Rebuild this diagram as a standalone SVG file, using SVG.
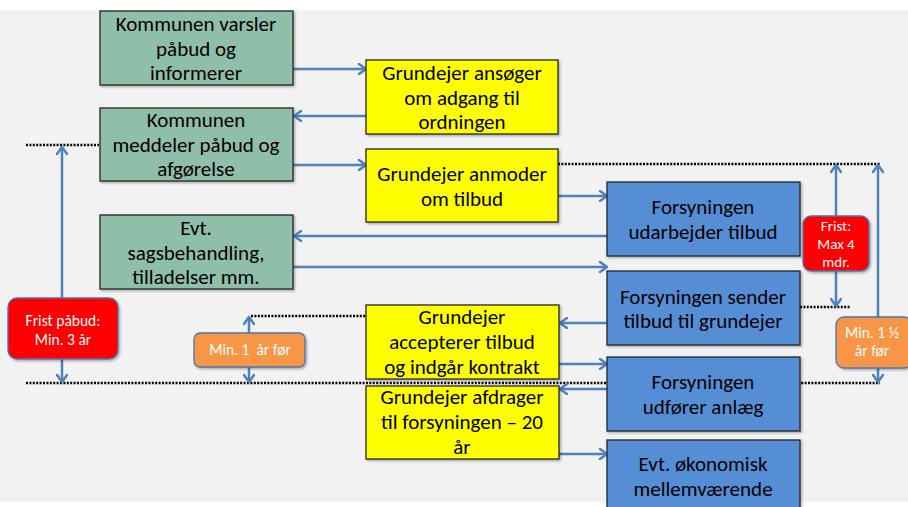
<svg xmlns="http://www.w3.org/2000/svg" width="908" height="507" viewBox="0 0 908 507">
<style>
.box{stroke:#262626;stroke-width:1.3;filter:url(#sh)}
.g{fill:#8fbea9}.y{fill:#ffff00}.b{fill:#558ed5}
.red{fill:#ff0000;stroke:#4a76b0;stroke-width:1.3;filter:url(#sh)}
.or{fill:#f79646;stroke:#4a76b0;stroke-width:1.3;filter:url(#sh)}
.t{font-family:Calibri,Carlito,"Liberation Sans",sans-serif;font-size:21px;fill:#000;text-anchor:middle}
.s{font-family:Calibri,Carlito,"Liberation Sans",sans-serif;font-size:15.5px;fill:#fff;text-anchor:middle}
.dot{stroke:#000;stroke-width:2.5;stroke-dasharray:2 1.4;fill:none}
.ar{stroke:#4f81bd;stroke-width:2.5;fill:none;marker-end:url(#ah)}
.ar2{stroke:#4f81bd;stroke-width:2.5;fill:none;marker-end:url(#ah);marker-start:url(#ah)}
</style>
<defs>
<filter id="sh" x="-10%" y="-10%" width="125%" height="130%">
<feDropShadow dx="1.5" dy="1.5" stdDeviation="1.2" flood-color="#000" flood-opacity="0.3"/>
</filter>
<marker id="ah" viewBox="0 0 12 12" refX="10" refY="6" markerWidth="12" markerHeight="12" markerUnits="userSpaceOnUse" orient="auto-start-reverse">
<path d="M3,1 L10,6 L3,11" fill="none" stroke="#4f81bd" stroke-width="2.5" stroke-linecap="round" stroke-linejoin="round"/>
</marker>
</defs>
<rect x="0" y="10" width="908" height="492" fill="#f2f2f2"/>
<g id="guides">
<line class="dot" x1="26" y1="145" x2="99" y2="145"/>
<line class="dot" x1="558" y1="164" x2="880" y2="164"/>
<line class="dot" x1="800" y1="307" x2="851" y2="307"/>
<line class="dot" x1="251" y1="316" x2="366" y2="316"/>
<line class="dot" x1="26" y1="383" x2="880" y2="383"/>
</g>
<g id="connectors">
<line class="ar" x1="293" y1="69" x2="366" y2="69"/>
<line class="ar" x1="366" y1="116" x2="294" y2="116"/>
<line class="ar" x1="293" y1="165" x2="366" y2="165"/>
<line class="ar" x1="558" y1="196" x2="607" y2="196"/>
<line class="ar" x1="607" y1="236" x2="294" y2="236"/>
<line class="ar" x1="293" y1="267" x2="607" y2="267"/>
<line class="ar" x1="607" y1="323" x2="560" y2="323"/>
<line class="ar" x1="559" y1="364" x2="607" y2="364"/>
<line class="ar" x1="607" y1="389" x2="560" y2="389"/>
<line class="ar" x1="559" y1="454" x2="607" y2="454"/>
<line class="ar2" x1="62" y1="147" x2="62" y2="382"/>
<line class="ar2" x1="249" y1="317" x2="249" y2="382"/>
<line class="ar2" x1="836" y1="165" x2="836" y2="306"/>
<line class="ar2" x1="878" y1="165" x2="878" y2="382"/>
</g>
<g id="n1"><rect class="box g" x="100" y="11" width="193" height="74"/>
<text class="t" x="196" y="31">Kommunen varsler</text><text class="t" x="196" y="55.5">påbud og</text><text class="t" x="196" y="80">informerer</text></g>
<g id="n2"><rect class="box g" x="100" y="108" width="193" height="73"/>
<text class="t" x="196" y="127">Kommunen</text><text class="t" x="196" y="152">meddeler påbud og</text><text class="t" x="196" y="176">afgørelse</text></g>
<g id="n3"><rect class="box g" x="100" y="215" width="193" height="74"/>
<text class="t" x="196" y="235">Evt.</text><text class="t" x="196" y="260">sagsbehandling,</text><text class="t" x="196" y="284">tilladelser mm.</text></g>
<g id="y1"><rect class="box y" x="366" y="60" width="192" height="74"/>
<text class="t" x="462" y="80">Grundejer ansøger</text><text class="t" x="462" y="105">om adgang til</text><text class="t" x="462" y="129">ordningen</text></g>
<g id="y2"><rect class="box y" x="366" y="149" width="192" height="73"/>
<text class="t" x="462" y="181">Grundejer anmoder</text><text class="t" x="462" y="206">om tilbud</text></g>
<g id="y3"><rect class="box y" x="366" y="305" width="193" height="74"/>
<text class="t" x="462" y="324">Grundejer</text><text class="t" x="462" y="349">accepterer tilbud</text><text class="t" x="462" y="374">og indgår kontrakt</text></g>
<g id="y4"><rect class="box y" x="366" y="386" width="193" height="73"/>
<text class="t" x="462" y="404">Grundejer afdrager</text><text class="t" x="462" y="429">til forsyningen – 20</text><text class="t" x="462" y="454">år</text></g>
<g id="b1"><rect class="box b" x="607" y="182" width="193" height="74"/>
<text class="t" x="703" y="214">Forsyningen</text><text class="t" x="703" y="239">udarbejder tilbud</text></g>
<g id="b2"><rect class="box b" x="607" y="271" width="193" height="74"/>
<text class="t" x="703" y="304">Forsyningen sender</text><text class="t" x="703" y="328">tilbud til grundejer</text></g>
<g id="b3"><rect class="box b" x="607" y="357" width="193" height="74"/>
<text class="t" x="703" y="389">Forsyningen</text><text class="t" x="703" y="414">udfører anlæg</text></g>
<g id="b4"><rect class="box b" x="607" y="440" width="193" height="74"/>
<text class="t" x="703" y="471">Evt. økonomisk</text><text class="t" x="703" y="496">mellemværende</text></g>
<g id="r1"><rect class="red" x="8" y="298" width="110" height="61" rx="9"/>
<text class="s" x="63" y="326">Frist påbud:</text><text class="s" x="63" y="345">Min. 3 år</text></g>
<g id="o1"><rect class="or" x="194" y="333" width="111" height="34" rx="6"/>
<text class="s" x="250" y="355" xml:space="preserve">Min. 1  år før</text></g>
<g id="r2"><rect class="red" x="803" y="216" width="66" height="55" rx="8"/>
<text class="s" x="836" y="231" style="font-size:15px">Frist:</text><text class="s" x="836" y="249" style="font-size:15px">Max 4</text><text class="s" x="836" y="267" style="font-size:15px">mdr.</text></g>
<g id="o2"><rect class="or" x="836" y="317" width="76" height="51" rx="8"/>
<text class="s" x="872" y="338">Min. 1 ½</text><text class="s" x="872" y="356">år før</text></g>
</svg>
